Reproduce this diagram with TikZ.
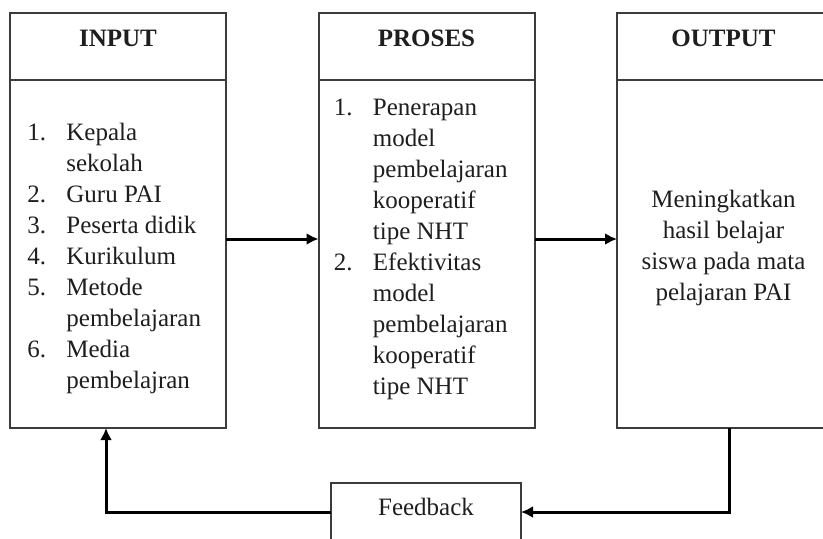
\documentclass[tikz,border=0pt]{standalone}
\usepackage{fontspec}
\setmainfont{Liberation Serif}
\usepackage{xcolor}
\usetikzlibrary{positioning,arrows.meta}
\definecolor{boxline}{HTML}{3C3C3C}
\definecolor{ink}{HTML}{1E1E1E}

\begin{document}
\begin{tikzpicture}[x=0.5pt,y=-0.5pt,
    head/.style={draw=boxline, line width=1pt, minimum width=108pt, minimum height=33.5pt,
        inner sep=0pt, outer sep=0pt, text height=16.5pt, text depth=17pt,
        font=\fontsize{12.5}{15.5}\selectfont\bfseries, text=ink},
    body/.style={draw=boxline, line width=1pt, minimum width=108pt, minimum height=174pt,
        inner sep=0pt, outer sep=0pt},
    txt/.style={inner sep=0pt, font=\fontsize{12.5}{15.5}\selectfont, text=ink},
    fbbox/.style={draw=boxline, line width=1pt, minimum width=95pt, minimum height=40pt,
        inner sep=0pt, outer sep=0pt, text height=16pt, text depth=24pt,
        font=\fontsize{12.5}{15.5}\selectfont, text=ink},
    flow/.style={line width=1.5pt, -{Latex[length=6pt,width=6pt]}}]
    \clip (0,0) rectangle (823,538);

    % Input
    \node[head] (inhead) at (118,46.5) {INPUT};
    \node[body, below=0pt of inhead] (inbody) {};
    \node[txt, anchor=north west] (intext) at ([xshift=8.5pt,yshift=-19.15pt]inbody.north west)
        {\begin{tabular}{@{}p{19.5pt}@{}l@{}}
            1. & Kepala\\
               & sekolah\\
            2. & Guru PAI\\
            3. & Peserta didik\\
            4. & Kurikulum\\
            5. & Metode\\
               & pembelajaran\\
            6. & Media\\
               & pembelajran
        \end{tabular}};

    % Proses
    \node[head] (prhead) at (426.5,46.5) {PROSES};
    \node[body, below=0pt of prhead] (prbody) {};
    \node[txt, anchor=north west] (prtext) at ([xshift=7.5pt,yshift=-6.65pt]prbody.north west)
        {\begin{tabular}{@{}p{19.5pt}@{}l@{}}
            1. & Penerapan\\
               & model\\
               & pembelajaran\\
               & kooperatif\\
               & tipe NHT\\
            2. & Efektivitas\\
               & model\\
               & pembelajaran\\
               & kooperatif\\
               & tipe NHT
        \end{tabular}};

    % Output
    \node[head, minimum width=106.5pt] (outhead) at (723.5,46.5) {OUTPUT};
    \node[body, minimum width=106.5pt, below=0pt of outhead] (outbody) {};
    \node[txt, anchor=north] (outtext) at ([yshift=-52.65pt]outbody.north)
        {\begin{tabular}{@{}c@{}}
            Meningkatkan\\
            hasil belajar\\
            siswa pada mata\\
            pelajaran PAI
        \end{tabular}};

    % Feedback
    \node[fbbox] (fb) at (426,523) {Feedback};

    % Arrows
    \draw[flow] ([yshift=7.5pt]inbody.east) -- ([yshift=7.5pt]prbody.west);
    \draw[flow] ([yshift=7.5pt]prbody.east) -- ([yshift=7.5pt]outbody.west);
    \draw[flow] ([xshift=2.75pt]outbody.south) |- ([yshift=5.5pt]fb.east);
    \draw[flow] ([yshift=5.5pt]fb.west) -| ([xshift=-6pt]inbody.south);
\end{tikzpicture}
\end{document}
